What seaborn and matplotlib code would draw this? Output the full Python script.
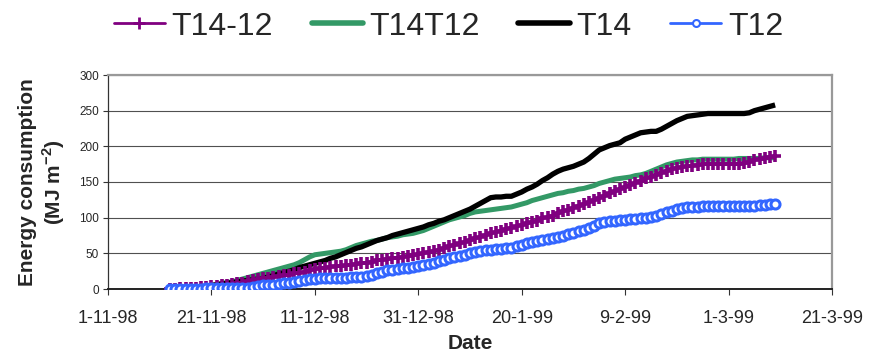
import matplotlib
matplotlib.use("Agg")
import matplotlib.pyplot as plt
import seaborn as sns
import pandas as pd
from matplotlib.lines import Line2D

# ---------------- data (daily, 13-11-1998 .. 10-03-1999) ----------------
start_date = "1998-11-13"
n_days = 118

t14 = [0, 0, 1, 1, 2, 2, 3, 4, 5, 6,
       7, 8, 9, 10, 11, 12, 13, 14, 15, 17,
       19, 21, 23, 25, 27, 30, 32, 34, 36, 38,
       40, 43, 45, 48, 51, 54, 57, 59, 62, 65,
       68, 70, 72, 75, 77, 79, 81, 83, 85, 87,
       90, 92, 95, 97, 100, 103, 106, 109, 112, 116,
       120, 124, 128, 129, 129, 130, 130, 133, 136, 140,
       143, 147, 152, 156, 161, 165, 168, 170, 172, 175,
       178, 183, 189, 195, 198, 201, 203, 205, 210, 213,
       216, 219, 220, 221, 221, 224, 228, 232, 236, 239,
       242, 243, 244, 245, 246, 246, 246, 246, 246, 246,
       246, 246, 247, 250, 252, 254, 256, 258]

t14t12 = [0, 0, 1, 1, 2, 3, 3, 4, 5, 6,
          8, 9, 10, 12, 14, 16, 18, 20, 22, 24,
          26, 28, 30, 32, 34, 37, 41, 45, 48, 49,
          50, 51, 52, 53, 55, 58, 61, 63, 65, 67,
          68, 70, 72, 73, 74, 76, 77, 78, 80, 82,
          85, 88, 91, 94, 97, 99, 101, 103, 106, 108,
          109, 110, 111, 112, 113, 114, 115, 117, 119, 121,
          124, 126, 128, 130, 132, 134, 135, 137, 138, 140,
          141, 143, 145, 148, 150, 152, 154, 155, 156, 157,
          159, 160, 162, 165, 168, 171, 174, 176, 178, 179,
          180, 181, 181, 182, 182, 182, 182, 182, 182, 182,
          183, 183, 183, 183, 183, 184, 184, 184]

t14_12 = [0, 0, 1, 1, 2, 2, 3, 3, 4, 4,
          5, 6, 7, 8, 9, 11, 12, 14, 15, 16,
          17, 18, 19, 20, 22, 23, 24, 26, 28, 29,
          30, 31, 32, 32, 33, 34, 35, 36, 37, 38,
          40, 41, 42, 43, 44, 45, 46, 47, 49, 50,
          52, 53, 55, 57, 60, 62, 64, 66, 68, 71,
          73, 76, 78, 80, 82, 84, 86, 88, 90, 92,
          94, 96, 99, 101, 103, 106, 109, 111, 114, 117,
          119, 122, 125, 128, 131, 134, 137, 140, 143, 146,
          149, 152, 155, 157, 160, 163, 166, 168, 170, 171,
          172, 173, 174, 175, 175, 175, 175, 175, 175, 175,
          175, 176, 178, 181, 182, 183, 185, 186]

t12 = [0, 0, 0, 0, 0, 0, 0, 1, 1, 1,
       1, 1, 1, 1, 2, 2, 3, 4, 5, 5,
       6, 7, 8, 9, 10, 11, 13, 14, 14, 15,
       15, 15, 16, 16, 16, 17, 17, 17, 18, 20,
       22, 24, 26, 27, 28, 29, 30, 31, 32, 33,
       35, 37, 39, 41, 43, 45, 46, 48, 50, 52,
       53, 54, 55, 56, 56, 57, 58, 60, 62, 64,
       66, 67, 69, 70, 72, 73, 75, 77, 79, 81,
       83, 86, 89, 92, 94, 95, 96, 97, 97, 98,
       98, 99, 100, 101, 102, 105, 108, 110, 112, 114,
       115, 115, 115, 116, 116, 116, 116, 116, 116, 116,
       116, 117, 117, 117, 118, 118, 119, 119]

series_names = ["T14-12", "T14T12", "T14", "T12"]
tick_dates = ["1998-11-01", "1998-11-21", "1998-12-11", "1998-12-31",
              "1999-01-20", "1999-02-09", "1999-03-01", "1999-03-21"]
y_ticks = [0, 50, 100, 150, 200, 250, 300]

dates = pd.date_range(start_date, periods=n_days, freq="D")
df = pd.DataFrame({"Date": dates, "T14-12": t14_12, "T14T12": t14t12,
                   "T14": t14, "T12": t12})

# ---------------- styling ----------------
sns.set_theme(style="white")
plt.rcParams["font.family"] = ["Liberation Sans", "DejaVu Sans"]
plt.rcParams["mathtext.fontset"] = "custom"
plt.rcParams["mathtext.rm"] = "Liberation Sans"
plt.rcParams["mathtext.bf"] = "Liberation Sans:bold"

PURPLE = "#800080"
GREEN = "#339966"
BLACK = "#000000"
BLUE = "#3366FF"

fig = plt.figure(figsize=(8.71, 3.54), dpi=100)
ax = fig.add_axes([108 / 871, 65 / 354, 724 / 871, 214 / 354])

# draw order: green, black, purple, blue
sns.lineplot(data=df, x="Date", y="T14T12", ax=ax, color=GREEN, lw=3.6,
             solid_capstyle="butt", zorder=3)
sns.lineplot(data=df, x="Date", y="T14", ax=ax, color=BLACK, lw=3.8,
             solid_capstyle="butt", zorder=4)
sns.lineplot(data=df, x="Date", y="T14-12", ax=ax, color=PURPLE, lw=2.6,
             marker="+", markersize=8, markeredgewidth=2.6,
             markeredgecolor=PURPLE, zorder=5)
sns.lineplot(data=df, x="Date", y="T12", ax=ax, color=BLUE, lw=2.0,
             marker="o", markersize=6.5, markeredgewidth=2.2,
             markerfacecolor="white", markeredgecolor=BLUE, zorder=6)

ax.set_xlim(pd.Timestamp(tick_dates[0]), pd.Timestamp(tick_dates[-1]))
ax.set_ylim(0, 300)
ax.set_yticks(y_ticks)
ax.set_yticklabels([str(v) for v in y_ticks], fontsize=8.5)
tick_ts = [pd.Timestamp(d) for d in tick_dates]
ax.set_xticks(tick_ts)
ax.set_xticklabels([f"{t.day}-{t.month}-{t.strftime('%y')}" for t in tick_ts],
                   fontsize=13)

ax.yaxis.grid(True, color="#505050", lw=0.8)
ax.xaxis.grid(False)
ax.set_axisbelow(True)

for s in ["top", "right"]:
    ax.spines[s].set_color("#999999")
    ax.spines[s].set_linewidth(1.6)
ax.spines["left"].set_color("#333333")
ax.spines["left"].set_linewidth(0.9)
ax.spines["bottom"].set_color("#222222")
ax.spines["bottom"].set_linewidth(1.4)

ax.tick_params(axis="y", direction="out", length=3.5, width=0.8,
               color="#333333", pad=3, left=True)
ax.tick_params(axis="x", direction="out", length=4, width=0.8,
               color="#333333", pad=11, bottom=True)

ax.set_xlabel("Date", fontsize=15, fontweight="bold", labelpad=5)
ax.set_ylabel("Energy consumption\n(MJ m$^{\\mathbf{-2}}$)", fontsize=15,
              fontweight="bold", linespacing=1.15)
ax.yaxis.set_label_coords(-0.057, 0.5)

handles = [
    Line2D([], [], color=PURPLE, lw=2.0, marker="+", markersize=8,
           markeredgewidth=2),
    Line2D([], [], color=GREEN, lw=4),
    Line2D([], [], color=BLACK, lw=4),
    Line2D([], [], color=BLUE, lw=2.0, marker="o", markersize=5,
           markeredgewidth=1.5, markerfacecolor="white"),
]
fig.legend(handles, series_names, loc="center", bbox_to_anchor=(0.515, 0.925),
           ncol=4, frameon=False, fontsize=23, handlelength=1.6,
           handletextpad=0.22, columnspacing=1.2, borderaxespad=0)

fig.savefig("out.png", dpi=100)
